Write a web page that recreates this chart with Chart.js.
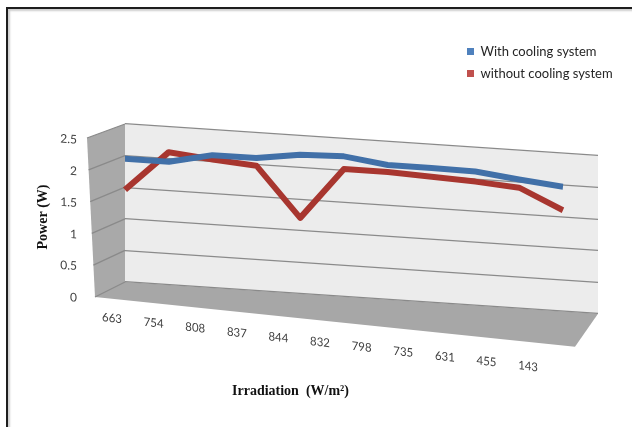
<!DOCTYPE html>
<html>
<head>
<meta charset="utf-8">
<script src="https://cdn.jsdelivr.net/npm/chart.js@4.4.1/dist/chart.umd.min.js"></script>
<style>
    body { margin: 0; background: #fff; }
    #moldura { position: absolute; left: 6px; top: 7px; width: 700px; height: 500px;
               border-left: 2px solid #1e1e1e; border-top: 2px solid #1e1e1e;
               box-shadow: inset 2px 2px 2px #cfcfcf; }
    #grafico { position: absolute; left: 0; top: 0; }
</style>
</head>
<body>
<div id="moldura"></div>
<canvas id="grafico" width="632" height="427"></canvas>
<script>
const irradiation = ['663', '754', '808', '837', '844', '832', '798', '735', '631', '455', '143'];
const withCooling = [1.95, 1.95, 2.1, 2.1, 2.2, 2.22, 2.13, 2.13, 2.12, 2.04, 1.97];
const withoutCooling = [1.46, 2.1, 2.03, 1.98, 1.2, 2.02, 2.02, 1.99, 1.96, 1.91, 1.6];

// the original is an Excel 3D line chart: the back wall tilts down to the right,
// the category labels follow the (steeper) front edge of the floor
const WALL_SLOPE = 0.067;
const FLOOR_SLOPE = 0.11;

function shear(ctx, pivotX, slope) {
    ctx.translate(pivotX, 0);
    ctx.transform(1, slope, 0, 1, 0, 0);
    ctx.translate(-pivotX, 0);
}

function wrap(scale, method, prepare) {
    const original = scale[method].bind(scale);
    scale[method] = function (...args) {
        scale.ctx.save();
        prepare(scale.ctx, scale.chart.chartArea);
        original(...args);
        scale.ctx.restore();
    };
}

function poly(ctx, pts, color) {
    ctx.beginPath();
    ctx.moveTo(pts[0][0], pts[0][1]);
    pts.slice(1).forEach(p => ctx.lineTo(p[0], p[1]));
    ctx.closePath();
    ctx.fillStyle = color;
    ctx.fill();
}

const paredes3d = {
    id: 'paredes3d',
    afterLayout(chart) {
        // legend sits top right, above the walls
        Object.assign(chart.legend, { left: 458, top: 36, right: 632, bottom: 110, width: 174, height: 74 });

        const { x, y } = chart.scales;
        if (!x.$torto) {
            wrap(x, 'drawLabels', (ctx, area) => {
                ctx.translate(area.left - 13, 0);
                ctx.transform(0.95, FLOOR_SLOPE, 0, 1, 0, 0);
                ctx.translate(-area.left, 0);
            });
            wrap(x, 'drawTitle', (ctx) => ctx.translate(-71, 0));
            x.$torto = true;
        }
        if (!y.$torto) {
            wrap(y, 'drawGrid', (ctx, area) => shear(ctx, area.left, WALL_SLOPE));
            wrap(y, 'drawLabels', (ctx, area) => shear(ctx, area.left, WALL_SLOPE));
            wrap(y, 'drawTitle', (ctx) => ctx.translate(0, 14));
            y.$torto = true;
        }
    },
    beforeDraw(chart) {
        const { ctx, chartArea: { left, right, top, bottom } } = chart;
        const sh = (px, py) => [px, py + WALL_SLOPE * (px - left)];
        const frenteTopo = [left - 38, top + 14];
        const frenteBase = [left - 30, bottom + 15];
        const fundoDir = sh(right, bottom);

        ctx.save();
        poly(ctx, [sh(left, top), sh(right, top), fundoDir, sh(left, bottom)], '#ececec');
        poly(ctx, [frenteTopo, sh(left, top), sh(left, bottom), frenteBase], '#a9a9a9');
        poly(ctx, [frenteBase, sh(left, bottom), fundoDir, [right - 23, fundoDir[1] + 33]], '#a7a7a7');

        // gridlines carried over the side wall
        const yScale = chart.scales.y;
        ctx.strokeStyle = '#8a8a8a';
        ctx.lineWidth = 1.3;
        for (const tick of yScale.ticks) {
            const py = yScale.getPixelForValue(tick.value);
            const t = (py - top) / (bottom - top);
            ctx.beginPath();
            ctx.moveTo(left, py);
            ctx.lineTo(frenteTopo[0] + t * (frenteBase[0] - frenteTopo[0]), frenteTopo[1] + t * (frenteBase[1] - frenteTopo[1]));
            ctx.stroke();
        }
        ctx.restore();
    },
    beforeDatasetsDraw(chart) {
        chart.ctx.save();
        shear(chart.ctx, chart.chartArea.left, WALL_SLOPE);
    },
    afterDatasetsDraw(chart) {
        chart.ctx.restore();
    }
};

const pontos = arr => arr.map((v, i) => ({ x: i, y: v }));

new Chart(document.getElementById('grafico'), {
    type: 'line',
    data: {
        datasets: [{
            label: 'With cooling system',
            data: pontos(withCooling),
            borderColor: '#4170a8',
            backgroundColor: '#4f81bd',
            borderWidth: 6,
            pointRadius: 0,
            borderJoinStyle: 'round',
            clip: false
        }, {
            label: 'without cooling system',
            data: pontos(withoutCooling),
            borderColor: '#a8362f',
            backgroundColor: '#c0504d',
            borderWidth: 6,
            pointRadius: 0,
            borderJoinStyle: 'round',
            clip: false
        }]
    },
    options: {
        responsive: false,
        animation: false,
        devicePixelRatio: 1,
        layout: { padding: { left: 20, top: 124, right: 34, bottom: 10 } },
        scales: {
            x: {
                type: 'linear',
                min: 0,
                max: 10.8,
                afterFit: s => { s.height = 135; },
                grid: { display: false },
                border: { display: false },
                ticks: {
                    stepSize: 1,
                    includeBounds: false,
                    maxRotation: 0,
                    autoSkip: false,
                    padding: 21,
                    color: '#404040',
                    font: { family: 'Lato', size: 12 },
                    callback: v => irradiation[v]
                },
                title: {
                    display: true,
                    text: 'Irradiation  (W/m²)',
                    color: '#111',
                    font: { family: 'Liberation Serif', size: 14, weight: 'bold' },
                    padding: { top: 0, bottom: 17 }
                }
            },
            y: {
                min: 0,
                max: 2.5,
                afterFit: s => { s.width = 105; },
                grid: { color: '#8a8a8a', lineWidth: 1.3, drawTicks: false },
                border: { display: false },
                ticks: {
                    stepSize: 0.5,
                    padding: 48,
                    labelOffset: 19,
                    color: '#404040',
                    font: { family: 'Lato', size: 12 },
                    callback: v => String(v)
                },
                title: {
                    display: true,
                    text: 'Power (W)',
                    color: '#111',
                    font: { family: 'Liberation Serif', size: 14, weight: 'bold' },
                    padding: { top: 15, bottom: 0 }
                }
            }
        },
        plugins: {
            legend: {
                position: 'chartArea',
                align: 'start',
                labels: {
                    boxWidth: 7,
                    boxHeight: 7,
                    padding: 9,
                    color: '#262626',
                    font: { family: 'Lato', size: 13 },
                    generateLabels: chart => Chart.defaults.plugins.legend.labels.generateLabels(chart)
                        .map(item => ({ ...item, lineWidth: 0 }))
                }
            },
            tooltip: { enabled: false }
        }
    },
    plugins: [paredes3d]
});
</script>
</body>
</html>
